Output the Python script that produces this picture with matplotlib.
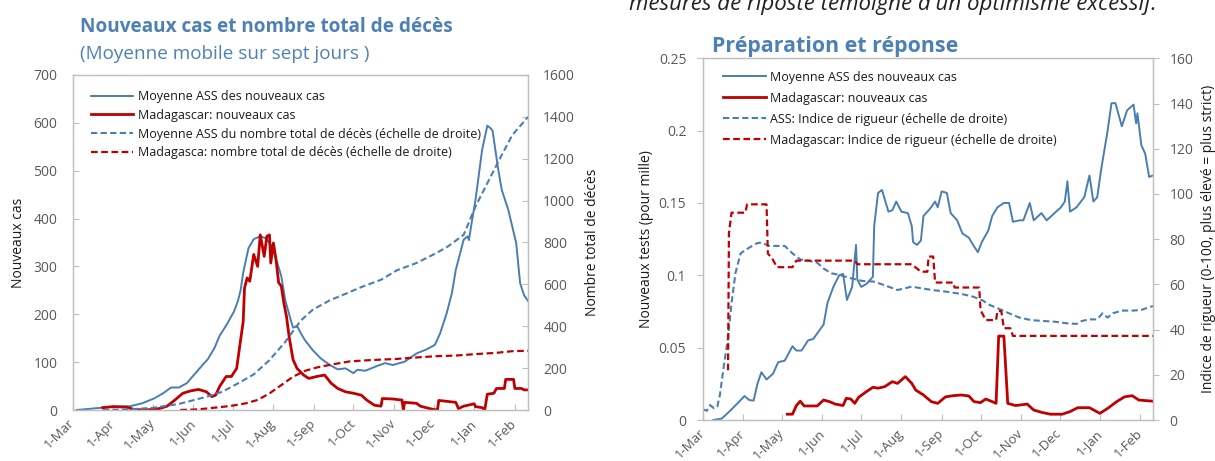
import matplotlib
matplotlib.use("Agg")
import matplotlib.pyplot as plt
import matplotlib.dates as mdates
from matplotlib.ticker import FuncFormatter
import numpy as np

plt.rcParams['font.family'] = ['Open Sans', 'DejaVu Sans']

# ---------------- data (x = days after 1 March 2020) ----------------
START = np.datetime64('2020-03-01')
END = np.datetime64('2021-02-11')

# Left panel: new cases (7-day moving average)
ass_cases_day = [3, 23, 31, 44, 53, 62, 69, 75, 81, 87, 93, 99, 103, 108, 112, 118, 123, 126,
                 128, 130, 134, 138, 143, 147, 152, 156, 159, 162, 166, 168, 171, 174, 177, 183,
                 189, 196, 202, 208, 214, 217, 223, 232, 238, 244, 253, 262, 270, 276, 280, 285,
                 289, 292, 298, 301, 302, 304, 307, 312, 316, 318, 320, 324, 327, 332, 338, 341,
                 344, 347]
ass_cases = [0, 5, 7, 8, 14, 24, 35, 47, 47, 56, 75, 94, 106, 129, 155, 181, 206, 228,
             250, 287, 338, 357, 363, 359, 342, 307, 280, 230, 190, 172, 176, 160, 146, 125,
             108, 94, 85, 87, 77, 84, 82, 92, 98, 94, 101, 118, 127, 136, 160, 202,
             244, 293, 356, 363, 355, 390, 439, 543, 594, 590, 584, 508, 460, 418, 349, 265,
             240, 228]

mdg_cases_day = [23, 31, 41, 47, 56, 66, 72, 78, 84, 90, 96, 102, 106, 109, 112, 117, 121, 125,
                 128, 130, 131, 133, 135, 138, 141, 143, 146, 148, 150, 151, 153, 155, 157, 159,
                 161, 163, 165, 168, 171, 176, 180, 186, 192, 197, 202, 208, 214, 220, 224, 230,
                 235, 236, 244, 250, 251, 252, 253, 262, 265, 272, 277, 278, 279, 292, 294, 298,
                 306, 307, 312, 314, 316, 321, 323, 329, 330, 336, 337, 342, 344, 347]
mdg_cases = [5, 7, 6, 1, 0, 3, 8, 21, 35, 40, 43, 38, 28, 31, 49, 70, 70, 87,
             146, 185, 255, 276, 269, 325, 300, 366, 321, 363, 366, 307, 349, 314, 266, 259,
             223, 195, 153, 105, 87, 73, 66, 70, 73, 56, 45, 38, 35, 31, 21, 10,
             8, 24, 23, 21, 21, 0, 16, 14, 8, 3, 0, 0, 20, 16, 3, 8,
             13, 7, 5, 0, 33, 35, 45, 45, 64, 64, 45, 45, 42, 42]

ass_deaths_day = [23, 44, 62, 81, 102, 114, 126, 138, 150, 162, 174, 183, 196, 208, 220, 235,
                  247, 262, 277, 286, 298, 307, 316, 325, 335, 347]
ass_deaths = [0, 3, 11, 29, 63, 87, 127, 170, 238, 325, 428, 479, 524, 555, 587, 622,
              667, 702, 749, 781, 837, 972, 1083, 1194, 1313, 1400]

mdg_deaths_day = [82, 96, 108, 120, 132, 141, 150, 159, 168, 177, 186, 199, 211, 226, 247, 262,
                  277, 292, 307, 323, 335, 347]
mdg_deaths = [0, 3, 11, 19, 32, 48, 79, 119, 159, 187, 203, 219, 232, 238, 244, 251,
              257, 260, 267, 273, 281, 283]

# Right panel: new tests (per thousand) and stringency index
ass_tests_day = [8, 14.5, 20.5, 26.6, 32, 35.6, 39, 42, 45, 49, 54, 58, 63, 66, 69, 72, 76, 81,
                 85, 89, 93, 96, 100.5, 105, 108, 111, 115, 118, 119, 122, 126, 131, 132, 135,
                 138, 143, 146, 149, 153, 158, 161, 162, 165, 168, 170, 175, 179, 181, 184, 188,
                 191, 196, 200, 205, 209, 212, 215, 220, 223, 227, 232, 236, 239, 244, 247, 252,
                 255, 261, 265, 271, 276, 279, 281, 283, 288, 294, 298, 301, 304, 307, 312, 315,
                 318, 323, 327, 332, 334, 335, 338, 341, 344, 347]
ass_tests = [0, 0.001, 0.006, 0.0115, 0.0166, 0.0138, 0.0134, 0.025, 0.033, 0.028, 0.032, 0.040,
             0.041, 0.046, 0.051, 0.048, 0.048, 0.055, 0.056, 0.061, 0.066, 0.081, 0.092, 0.100,
             0.101, 0.083, 0.092, 0.121, 0.097, 0.092, 0.094, 0.099, 0.134, 0.157, 0.159, 0.144,
             0.145, 0.151, 0.144, 0.143, 0.134, 0.123, 0.121, 0.124, 0.141, 0.146, 0.151, 0.147,
             0.158, 0.157, 0.143, 0.138, 0.129, 0.126, 0.120, 0.116, 0.123, 0.131, 0.141, 0.147,
             0.150, 0.150, 0.137, 0.138, 0.138, 0.150, 0.138, 0.143, 0.138, 0.143, 0.147, 0.151,
             0.165, 0.144, 0.147, 0.154, 0.169, 0.151, 0.154, 0.173, 0.200, 0.219, 0.219, 0.203,
             0.214, 0.218, 0.205, 0.212, 0.190, 0.184, 0.168, 0.169]

mdg_tests_day = [65, 69, 72, 75, 78, 85, 88, 93, 97.5, 102, 108, 110.5, 114, 117, 120, 126, 131,
                 135, 140, 146, 150, 156, 161, 164, 170, 176, 181, 187, 193, 199, 205, 209, 214,
                 218, 223, 226, 228, 232, 235, 241, 250, 255, 261, 268, 277, 283, 289, 298, 306,
                 312, 319, 325, 331, 336, 347]
mdg_tests = [0.004, 0.004, 0.010, 0.013, 0.0097, 0.0097, 0.0097, 0.0138, 0.0127, 0.011, 0.010,
             0.015, 0.0145, 0.0115, 0.0157, 0.0196, 0.0226, 0.022, 0.023, 0.0265, 0.0253, 0.030,
             0.0253, 0.0207, 0.0173, 0.0127, 0.0115, 0.016, 0.0168, 0.0173, 0.0166, 0.0127,
             0.012, 0.0145, 0.0127, 0.0115, 0.058, 0.058, 0.0115, 0.010, 0.011, 0.0069, 0.0053,
             0.004, 0.004, 0.0058, 0.0085, 0.0085, 0.0046, 0.008, 0.0127, 0.016, 0.0168, 0.0138,
             0.013]

ass_string_day = [0, 3, 5.4, 8.5, 11, 13, 16, 19, 22, 25, 29, 32.6, 37, 41.7, 45, 51, 57, 63, 69,
                  75, 81, 88, 93, 99, 105, 114, 123, 132, 141, 150, 156, 161, 168, 177, 187, 199,
                  208, 215, 221, 229, 236, 244, 253, 262, 271, 280, 288, 292, 298, 304, 308, 312,
                  316, 323, 332, 338, 344, 347]
ass_string = [4.7, 4.1, 6.6, 5.2, 5.9, 11, 23.6, 35.4, 51.6, 64.9, 73.7, 75.2, 76.7, 78.2, 78.5,
              77, 77, 77, 73.7, 71, 70.5, 69.6, 67, 64.9, 64.2, 62.7, 61.5, 61.2, 59.4, 57.5, 58.3,
              59, 58.3, 57.5, 56.8, 55.8, 54.6, 53.1, 50.9, 49, 47.2, 45.3, 44.2, 43.8, 43.5, 42.8,
              42.5, 43.8, 44.5, 44.5, 47.2, 45.3, 47.2, 48.4, 48.4, 48.7, 49.9, 50.4]

mdg_string_day = [19.3, 20, 22, 32.6, 34, 49, 50, 54, 57, 69, 72, 117, 119, 161, 168, 173, 174,
                  177.5, 179, 193, 194, 213, 214, 218, 226, 227, 230, 232, 237, 239, 347]
mdg_string = [22, 82.6, 91.7, 91.7, 95.4, 95.4, 73.7, 70.8, 67.6, 67.6, 70.5, 70.5, 68.9, 68.9,
              65.6, 65.6, 72.3, 72.3, 60.8, 60.8, 58.6, 58.6, 48.7, 44.2, 44.2, 48.2, 48.2, 40.6,
              40.6, 37.2, 37.2]

left_ticks = [0, 100, 200, 300, 400, 500, 600, 700]
left_right_ticks = [0, 200, 400, 600, 800, 1000, 1200, 1400, 1600]
right_ticks = [0, 0.05, 0.1, 0.15, 0.2, 0.25]
right_right_ticks = [0, 20, 40, 60, 80, 100, 120, 140, 160]

# ---------------- style ----------------
BLUE = '#4a7eb3'
RED = '#c00000'
TITLE_BLUE = '#4d81b5'
GRAY = '#595959'
FRAME = '#bfbfbf'
DASH = (0, (3.0, 1.6))


def dates(days):
    return START + (np.array(days) * 24 * 3600).astype('timedelta64[s]')


W, H = 1215, 461
fig = plt.figure(figsize=(W / 100, H / 100), dpi=100)


def style_axes(ax, axr, ydir_left, ydir_right):
    for a in (ax, axr):
        for s in a.spines.values():
            s.set_color(FRAME)
            s.set_linewidth(0.9)
    ax.set_xlim(START, END)
    ax.xaxis.set_major_locator(mdates.MonthLocator())
    ax.xaxis.set_major_formatter(FuncFormatter(
        lambda v, p: f"{mdates.num2date(v).day}-{mdates.num2date(v).strftime('%b')}"))
    ax.tick_params(axis='x', direction='in', length=4, color=FRAME, labelcolor=GRAY,
                   labelsize=9.5, pad=8)
    for lab in ax.get_xticklabels():
        lab.set_rotation(45)
        lab.set_ha('right')
        lab.set_va('center')
        lab.set_rotation_mode('anchor')
    ax.tick_params(axis='y', direction=ydir_left, length=4, color=FRAME, labelcolor=GRAY,
                   labelsize=10, pad=11 if ydir_left == 'in' else 8)
    axr.tick_params(axis='y', direction=ydir_right, length=4, color=FRAME, labelcolor=GRAY,
                    labelsize=10, pad=11 if ydir_right == 'in' else 8)


# ---------------- left panel ----------------
ax1 = fig.add_axes([72.6 / W, 1 - 410 / H, 455.4 / W, 335 / H])
ax1r = ax1.twinx()
l1, = ax1.plot(dates(ass_cases_day), ass_cases, color=BLUE, lw=1.4,
               label='Moyenne ASS des nouveaux cas')
l2, = ax1.plot(dates(mdg_cases_day), mdg_cases, color=RED, lw=2.0,
               label='Madagascar: nouveaux cas')
l3, = ax1r.plot(dates(ass_deaths_day), ass_deaths, color=BLUE, lw=1.5, ls=DASH,
                label='Moyenne ASS du nombre total de décès (échelle de droite)')
l4, = ax1r.plot(dates(mdg_deaths_day), mdg_deaths, color=RED, lw=1.6, ls=DASH,
                label='Madagasca: nombre total de décès (échelle de droite)')
ax1.set_ylim(0, 700)
ax1.set_yticks(left_ticks)
ax1r.set_ylim(0, 1600)
ax1r.set_yticks(left_right_ticks)
style_axes(ax1, ax1r, 'in', 'in')
ax1.set_ylabel('Nouveaux cas', fontsize=10, color='#1a1a1a', va='center')
ax1.yaxis.set_label_coords((19 - 72.6) / 455.4, 0.5)
ax1r.set_ylabel('Nombre total de décès', fontsize=10, color='#1a1a1a', va='center',
                rotation=90)
ax1r.yaxis.set_label_coords((593 - 72.6) / 455.4, 0.5)
ax1r.legend(handles=[l1, l2, l3, l4], loc='upper left', bbox_to_anchor=(0.0294, 0.970),
            borderaxespad=0, frameon=False, fontsize=9, handlelength=3.36,
            handletextpad=0.4, labelspacing=0.46, borderpad=0.4, labelcolor='#1a1a1a')

fig.text(80.5 / W, 1 - 32.3 / H, 'Nouveaux cas et nombre total de décès', fontsize=13.7,
         fontweight='bold', color=TITLE_BLUE, va='baseline', ha='left')
fig.text(80.5 / W, 1 - 59.3 / H, '(Moyenne mobile sur sept jours )', fontsize=13.6,
         color=TITLE_BLUE, va='baseline', ha='left')

# ---------------- right panel ----------------
ax2 = fig.add_axes([703 / W, 1 - 420 / H, 450 / W, 361.7 / H])
ax2r = ax2.twinx()
r1, = ax2.plot(dates(ass_tests_day), ass_tests, color=BLUE, lw=1.4,
               label='Moyenne ASS des nouveaux cas')
r2, = ax2.plot(dates(mdg_tests_day), mdg_tests, color=RED, lw=2.0,
               label='Madagascar: nouveaux cas')
r3, = ax2r.plot(dates(ass_string_day), ass_string, color=BLUE, lw=1.5, ls=DASH,
                label='ASS: Indice de rigueur (échelle de droite)')
r4, = ax2r.plot(dates(mdg_string_day), mdg_string, color=RED, lw=1.6, ls=DASH,
                label='Madagascar: Indice de rigueur (échelle de droite)')
ax2.set_ylim(0, 0.25)
ax2.set_yticks(right_ticks)
ax2.yaxis.set_major_formatter(FuncFormatter(lambda v, p: f"{v:g}"))
ax2r.set_ylim(0, 160)
ax2r.set_yticks(right_right_ticks)
style_axes(ax2, ax2r, 'out', 'out')
ax2.set_ylabel('Nouveaux tests (pour mille)', fontsize=10, color='#1a1a1a', va='center')
ax2.yaxis.set_label_coords((647 - 703) / 450, 0.5)
ax2r.set_ylabel('Indice de rigueur (0-100, plus élevé = plus strict)', fontsize=10,
                color='#1a1a1a', va='center', rotation=90)
ax2r.yaxis.set_label_coords((1208 - 703) / 450, 0.5)
ax2r.legend(handles=[r1, r2, r3, r4], loc='upper left', bbox_to_anchor=(0.0344, 0.980),
            borderaxespad=0, frameon=False, fontsize=9, handlelength=3.44,
            handletextpad=0.27, labelspacing=0.64, borderpad=0.4, labelcolor='#1a1a1a')

fig.text(712 / W, 1 - 52 / H, 'Préparation et réponse', fontsize=15.4, fontweight='bold',
         color=TITLE_BLUE, va='baseline', ha='left')

fig.text(629 / W, 1 - 10 / H, "mesures de riposte témoigne d'un optimisme excessif.",
         fontsize=16, fontstyle='italic', color='#222222', va='baseline', ha='left')

fig.savefig('out.png', dpi=100)
